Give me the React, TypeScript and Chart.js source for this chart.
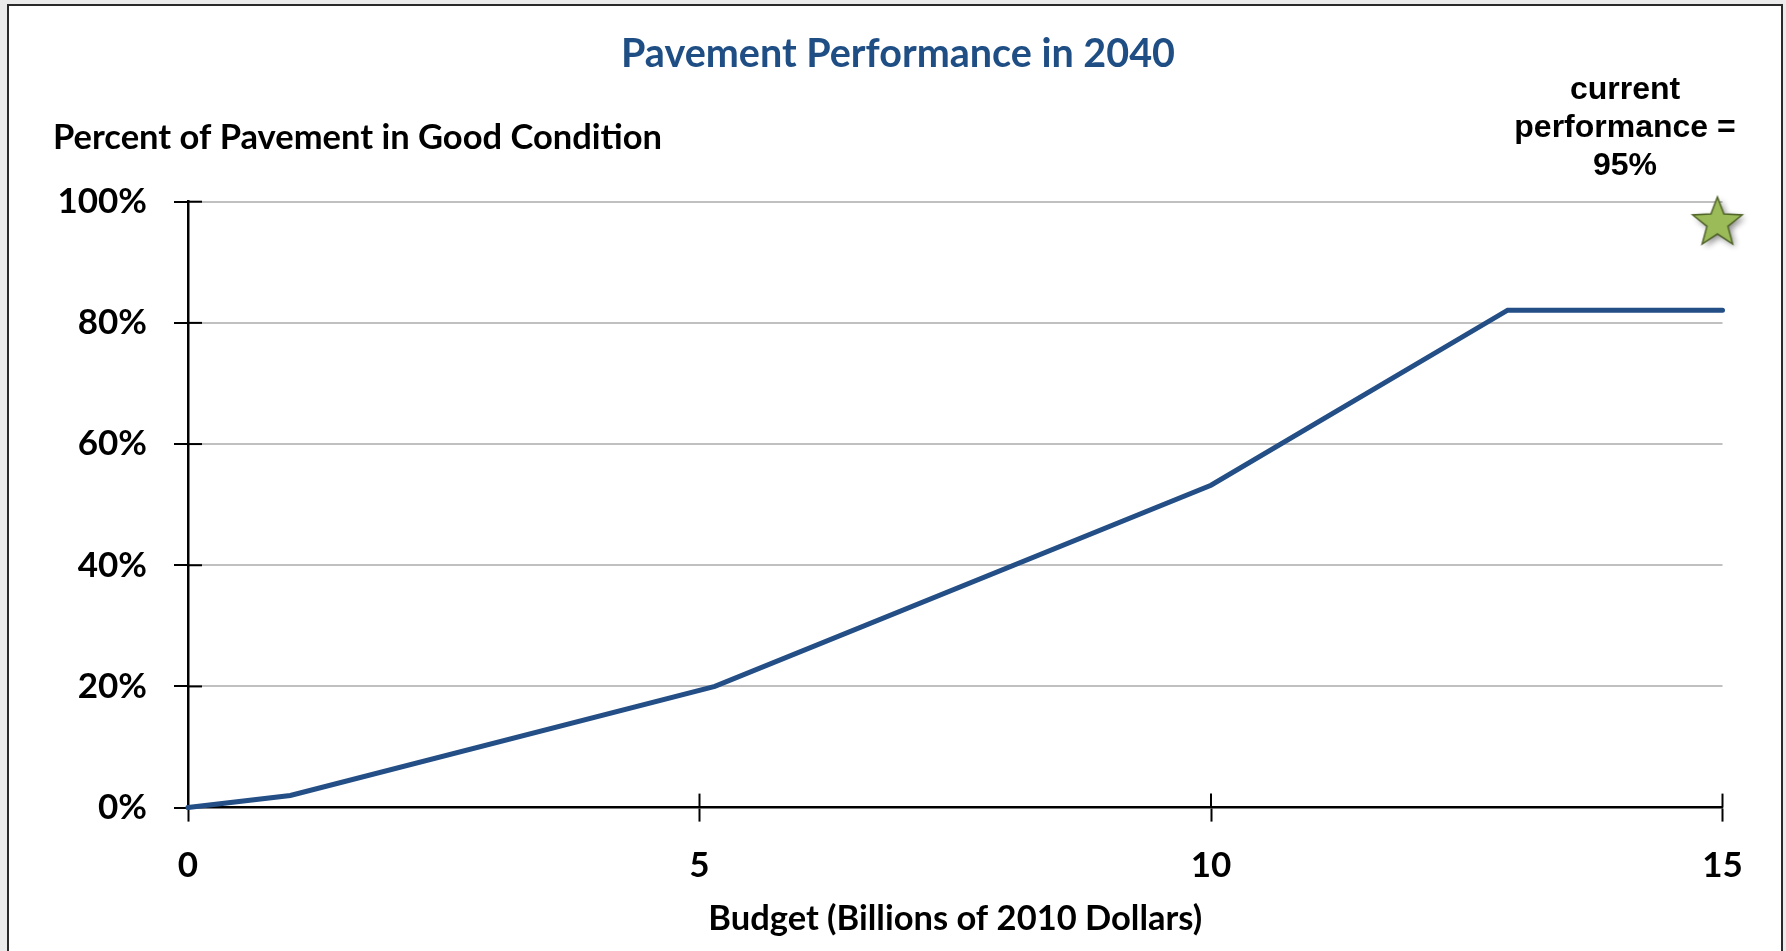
import React, { useEffect, useRef } from "react";
import { Chart, registerables } from "chart.js";

Chart.register(...registerables);

// ---- data ----
const budgetBillions = [0, 1, 5.15, 10, 12.9, 15];
const percentGood = [0, 2, 20, 53.2, 82.1, 82.1];
const currentPoint = [{ x: 14.95, y: 96.5 }];
const xTickValues = [0, 5, 10, 15];
const yTickValues = [0, 20, 40, 60, 80, 100];
const chartTitle = "Pavement Performance in 2040";
const yAxisTitle = "Percent of Pavement in Good Condition";
const xAxisTitle = "Budget (Billions of 2010 Dollars)";
const annotationLines = ["current", "performance =", "95%"];

const W = 1786;
const H = 951;
const FONT = "Lato, 'Open Sans', sans-serif";

function makeStar(): HTMLCanvasElement {
  const c = document.createElement("canvas");
  c.width = 84;
  c.height = 84;
  const ctx = c.getContext("2d")!;
  const cx = 42, cy = 42, R = 26, r = 11;
  ctx.beginPath();
  for (let i = 0; i < 10; i++) {
    const rad = i % 2 === 0 ? R : r;
    const a = -Math.PI / 2 + (i * Math.PI) / 5;
    const px = cx + rad * Math.cos(a);
    const py = cy + rad * Math.sin(a);
    if (i === 0) ctx.moveTo(px, py);
    else ctx.lineTo(px, py);
  }
  ctx.closePath();
  ctx.save();
  ctx.shadowColor = "rgba(0,0,0,0.45)";
  ctx.shadowBlur = 6;
  ctx.shadowOffsetX = 3;
  ctx.shadowOffsetY = 3;
  ctx.fillStyle = "#9BBB59";
  ctx.fill();
  ctx.restore();
  ctx.lineWidth = 1.5;
  ctx.strokeStyle = "#4F6228";
  ctx.stroke();
  return c;
}

const textPlugin = {
  id: "textPlugin",
  beforeDatasetsDraw(chart: any) {
    const ctx = chart.ctx;
    const xs = chart.scales.x;
    const ys = chart.scales.y;
    const area = chart.chartArea;
    ctx.save();
    ctx.strokeStyle = "#000";
    ctx.lineWidth = 2;
    // inner halves of crossing tick marks
    yTickValues.forEach((v) => {
      if (v === 0) return;
      const py = ys.getPixelForValue(v);
      ctx.beginPath();
      ctx.moveTo(area.left, py);
      ctx.lineTo(area.left + 14, py);
      ctx.stroke();
    });
    xTickValues.forEach((v) => {
      if (v === 0) return;
      const px = xs.getPixelForValue(v);
      ctx.beginPath();
      ctx.moveTo(px, area.bottom);
      ctx.lineTo(px, area.bottom - 14);
      ctx.stroke();
    });
    ctx.restore();
  },
  afterDraw(chart: any) {
    const ctx = chart.ctx;
    const area = chart.chartArea;
    ctx.save();
    ctx.textBaseline = "alphabetic";
    // chart title
    ctx.fillStyle = "#1F4E84";
    ctx.font = `bold 39.5px ${FONT}`;
    ctx.textAlign = "center";
    ctx.fillText(chartTitle, 898, 67);
    // y axis title
    ctx.fillStyle = "#000";
    ctx.font = `bold 34.5px ${FONT}`;
    ctx.textAlign = "left";
    ctx.fillText(yAxisTitle, 53, 148.5);
    // x axis title
    ctx.textAlign = "center";
    ctx.fillText(xAxisTitle, (area.left + area.right) / 2, 930);
    // annotation
    ctx.font = "bold 32px 'Liberation Sans', Arial, sans-serif";
    const base = [98.5, 136.8, 175];
    annotationLines.forEach((t, i) => ctx.fillText(t, 1625, base[i]));
    ctx.restore();
  },
};

export default function App() {
  const ref = useRef<HTMLCanvasElement | null>(null);
  useEffect(() => {
    if (!ref.current) return;
    const star = makeStar();
    const chart = new Chart(ref.current, {
      type: "scatter",
      data: {
        datasets: [
          {
            label: "Pavement",
            data: budgetBillions.map((x, i) => ({ x, y: percentGood[i] })),
            showLine: true,
            borderColor: "#234E86",
            backgroundColor: "#234E86",
            borderWidth: 5,
            borderCapStyle: "round",
            borderJoinStyle: "miter",
            pointRadius: 0,
            tension: 0,
            clip: false,
          } as any,
          {
            label: "Current",
            data: currentPoint,
            showLine: false,
            pointStyle: star as any,
            pointRadius: 26,
            clip: false,
          } as any,
        ],
      },
      options: {
        responsive: false,
        animation: false,
        devicePixelRatio: 1,
        layout: { padding: { top: 201.7, left: 0, right: 63.5, bottom: 0 } },
        plugins: {
          legend: { display: false },
          tooltip: { enabled: false },
          title: { display: false },
        },
        scales: {
          x: {
            type: "linear",
            min: 0,
            max: 15,
            afterBuildTicks: (s: any) => {
              s.ticks = xTickValues.map((v) => ({ value: v }));
            },
            afterFit: (s: any) => {
              s.height = 143.4;
            },
            border: { display: true, color: "#000", width: 2.5 },
            grid: {
              drawOnChartArea: false,
              drawTicks: true,
              tickLength: 14,
              tickColor: "#000",
              tickWidth: 2,
            },
            ticks: {
              color: "#000",
              font: { family: FONT, size: 35, weight: "bold" },
              padding: 23,
              maxRotation: 0,
            },
          },
          y: {
            type: "linear",
            min: 0,
            max: 100,
            afterBuildTicks: (s: any) => {
              s.ticks = yTickValues.map((v) => ({ value: v }));
            },
            afterFit: (s: any) => {
              s.width = 188;
            },
            border: { display: true, color: "#000", width: 2.5 },
            grid: {
              color: (c: any) => (c.tick && c.tick.value === 0 ? "rgba(0,0,0,0)" : "#C0C0C0"),
              lineWidth: 2,
              drawTicks: true,
              tickLength: 14,
              tickColor: "#000",
              tickWidth: 2,
            },
            ticks: {
              color: "#000",
              font: { family: FONT, size: 35, weight: "bold" },
              padding: 27,
              callback: (v: any) => `${v}%`,
            },
          },
        },
      },
      plugins: [textPlugin],
    });
    return () => chart.destroy();
  }, []);

  return (
    <div style={{ position: "fixed", left: 0, top: 0, width: W, height: H, background: "#EBEBEB", overflow: "hidden" }}>
      <div
        style={{
          position: "absolute",
          left: 7,
          top: 4,
          width: 1783 - 7,
          height: 1100,
          boxSizing: "border-box",
          border: "2px solid #2A2A2A",
          background: "#FFFFFF",
        }}
      />
      <canvas ref={ref} width={W} height={H} style={{ position: "absolute", left: 0, top: 0, width: W, height: H }} />
    </div>
  );
}
